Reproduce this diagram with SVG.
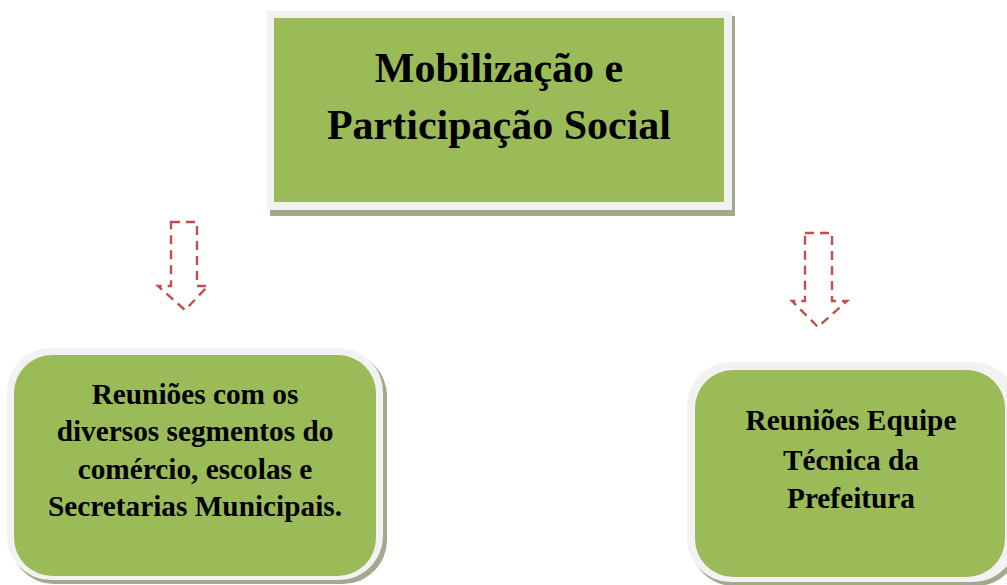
<svg xmlns="http://www.w3.org/2000/svg" width="1007" height="585" viewBox="0 0 1007 585">
<style>
.shadow{fill:#a3a98f}
.frame{fill:#f2f2f2}
.green{fill:#9bbb59}
.t{font-family:"Liberation Serif","Times New Roman",serif;font-weight:bold;fill:#000;text-anchor:middle}
.arrow{fill:none;stroke:#c0504d;stroke-width:2.4;stroke-dasharray:9 6}
</style>
<rect width="1007" height="585" fill="#ffffff"/>
<g id="node-top">
<rect class="shadow" x="270" y="16" width="465" height="200"/>
<rect class="frame" x="267" y="11" width="465" height="199"/>
<rect class="green" x="274" y="18" width="450" height="184"/>
<text class="t" x="499" y="82" font-size="42">Mobilização e</text>
<text class="t" x="499" y="139" font-size="42">Participação Social</text>
</g>
<g id="node-left">
<rect class="shadow" x="10" y="352" width="377" height="232" rx="44"/>
<rect class="frame" x="7" y="348" width="376" height="232" rx="44"/>
<rect class="green" x="14" y="355" width="362" height="221" rx="38"/>
<text class="t" x="195" y="404" font-size="29.3">Reuniões com os</text>
<text class="t" x="195" y="441" font-size="29.3">diversos segmentos do</text>
<text class="t" x="195" y="479" font-size="29.3">comércio, escolas e</text>
<text class="t" x="195" y="516" font-size="29.3">Secretarias Municipais.</text>
</g>
<g id="node-right">
<rect class="shadow" x="690" y="366" width="330" height="220" rx="44"/>
<rect class="frame" x="687" y="362" width="330" height="220" rx="44"/>
<rect class="green" x="695" y="370" width="310" height="207" rx="38"/>
<text class="t" x="851" y="430" font-size="29.3">Reuniões Equipe</text>
<text class="t" x="851" y="470" font-size="29.3">Técnica da</text>
<text class="t" x="851" y="508" font-size="29.3">Prefeitura</text>
</g>
<g id="connectors">
<path class="arrow" d="M171,222 L197,222 L197,286 L208,286 L185,310 L158,286 L171,286 Z"/>
<path class="arrow" d="M805,233 L832,233 L832,301 L847,301 L818,327 L792,301 L805,301 Z"/>
</g>
</svg>
